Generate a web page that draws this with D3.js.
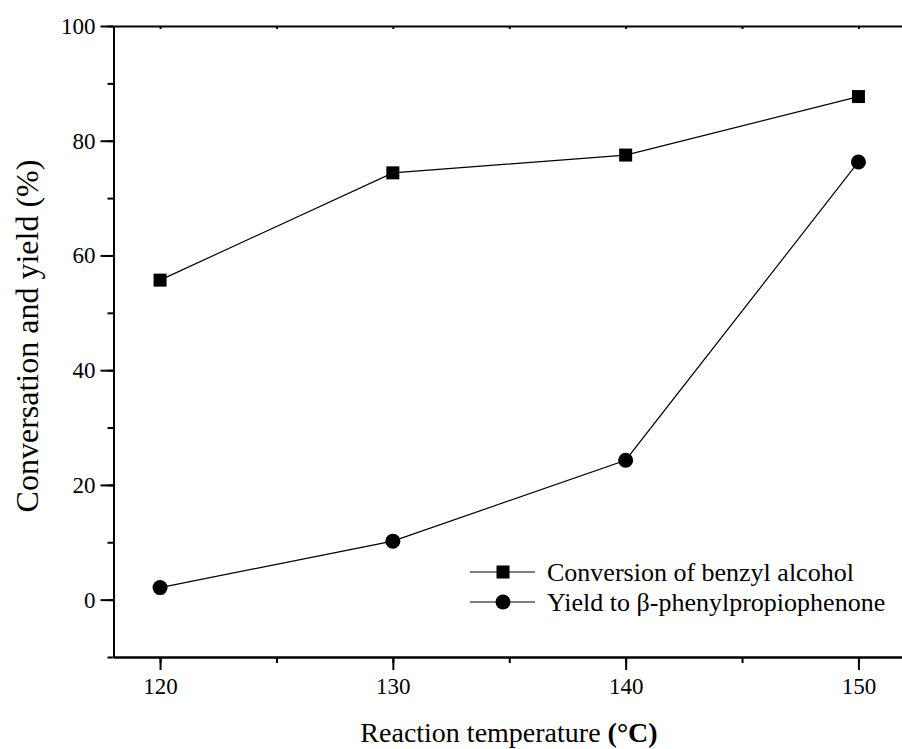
<!DOCTYPE html>
<html>
<head>
<meta charset="utf-8">
<script src="https://cdn.jsdelivr.net/npm/d3@7"></script>
</head>
<body style="margin:0; background:#fff; overflow:hidden">
<script>
const temperaturas = [120, 130, 140, 150]
const conversao = [55.7, 74.4, 77.5, 87.7]
const rendimento = [2.1, 10.2, 24.3, 76.3]
const ticksX = [120, 130, 140, 150]
const ticksY = [0, 20, 40, 60, 80, 100]
const legendas = ['Conversion of benzyl alcohol', 'Yield to \u03b2-phenylpropiophenone']

const fonte = 'Liberation Serif'
const largura = 902
const altura = 749

const svg = d3.select('body').append('svg')
  .attr('width', largura)
  .attr('height', altura)
  .style('display', 'block')

const escalaX = d3.scaleLinear().domain([118, 152]).range([113.5, 905])
const escalaY = d3.scaleLinear().domain([-10, 100]).range([657, 26])

const yTopo = escalaY(100)
const yBase = escalaY(-10)
const xEsq = escalaX(118)

function estilo (g) {
  g.select('.domain').attr('stroke', '#000').attr('stroke-width', 2)
  g.selectAll('.tick line').attr('stroke', '#000').attr('stroke-width', 2)
  g.selectAll('.tick text')
    .style('font-family', fonte)
    .style('font-size', '23px')
    .attr('fill', '#000')
}

// eixo de baixo: menores e maiores
svg.append('g').attr('transform', 'translate(0,' + yBase + ')')
  .call(d3.axisBottom(escalaX).tickValues(d3.range(120, 151, 5)).tickSize(6).tickFormat('').tickSizeOuter(0))
  .call(estilo)
svg.append('g').attr('transform', 'translate(0,' + yBase + ')')
  .call(d3.axisBottom(escalaX).tickValues(ticksX).tickSize(13).tickPadding(8).tickSizeOuter(0))
  .call(estilo)

// eixo esquerdo
svg.append('g').attr('transform', 'translate(' + xEsq + ',0)')
  .call(d3.axisLeft(escalaY).tickValues(d3.range(-10, 101, 10)).tickSize(6).tickFormat('').tickSizeOuter(0))
  .call(estilo)
svg.append('g').attr('transform', 'translate(' + xEsq + ',0)')
  .call(d3.axisLeft(escalaY).tickValues(ticksY).tickSize(13).tickPadding(5).tickSizeOuter(0))
  .call(estilo)

// eixo de cima (marcas para dentro)
svg.append('g').attr('transform', 'translate(0,' + yTopo + ')')
  .call(d3.axisBottom(escalaX).tickValues(d3.range(120, 151, 5)).tickSize(3).tickFormat('').tickSizeOuter(0))
  .call(estilo)

const linha = d3.line()
  .x(function (d, i) { return escalaX(temperaturas[i]) })
  .y(function (d) { return escalaY(d) })

svg.append('path').attr('d', linha(conversao))
  .attr('fill', 'none').attr('stroke', '#000').attr('stroke-width', 1.2)
svg.append('path').attr('d', linha(rendimento))
  .attr('fill', 'none').attr('stroke', '#000').attr('stroke-width', 1.2)

svg.selectAll('rect.conv').data(conversao).enter().append('rect')
  .attr('class', 'conv')
  .attr('x', function (d, i) { return escalaX(temperaturas[i]) - 6.5 })
  .attr('y', function (d) { return escalaY(d) - 6.5 })
  .attr('width', 13).attr('height', 13)
  .attr('fill', '#000')

svg.selectAll('circle.rend').data(rendimento).enter().append('circle')
  .attr('class', 'rend')
  .attr('cx', function (d, i) { return escalaX(temperaturas[i]) })
  .attr('cy', function (d) { return escalaY(d) })
  .attr('r', 7.5)
  .attr('fill', '#000')

// legenda
const leg = svg.append('g').attr('transform', 'translate(470,572)')
legendas.forEach(function (t, i) {
  const g = leg.append('g').attr('transform', 'translate(0,' + (i * 30) + ')')
  g.append('line').attr('x1', 0).attr('x2', 65).attr('y1', 0).attr('y2', 0)
    .attr('stroke', '#000').attr('stroke-width', 1.2)
  if (i === 0) {
    g.append('rect').attr('x', 33 - 6.5).attr('y', -6.5).attr('width', 13).attr('height', 13).attr('fill', '#000')
  } else {
    g.append('circle').attr('cx', 33).attr('cy', 0).attr('r', 7.5).attr('fill', '#000')
  }
  g.append('text').attr('x', 77).attr('y', 9)
    .style('font-family', fonte).style('font-size', '26px').text(t)
})

// titulos
const tx = svg.append('text')
  .attr('x', 509).attr('y', 742)
  .attr('text-anchor', 'middle')
  .style('font-family', fonte).style('font-size', '28px')
tx.append('tspan').text('Reaction temperature ')
tx.append('tspan').style('font-weight', 'bold').text('(\u00b0C)')

svg.append('text')
  .attr('transform', 'translate(38,336) rotate(-90)')
  .attr('text-anchor', 'middle')
  .style('font-family', fonte).style('font-size', '32px')
  .text('Conversation and yield (%)')
</script>
</body>
</html>
